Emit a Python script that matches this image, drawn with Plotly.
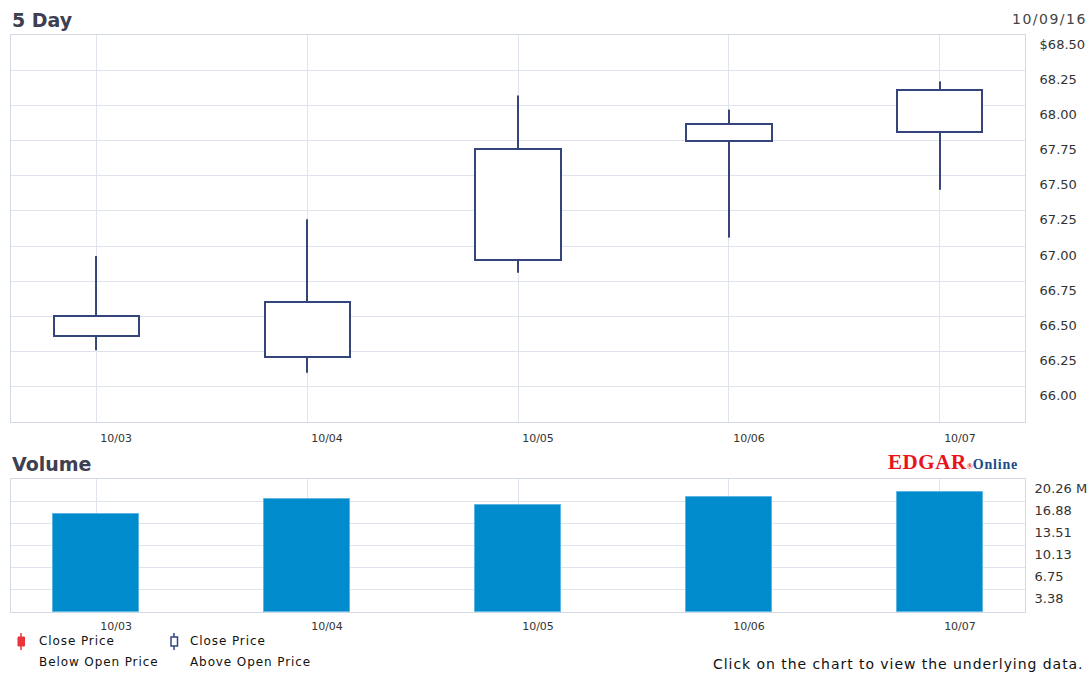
import plotly.graph_objects as go

# ---- data ----
dates = ["10/03", "10/04", "10/05", "10/06", "10/07"]
open_p = [66.36, 66.21, 66.90, 67.75, 67.81]
close_p = [66.50, 66.60, 67.69, 67.87, 68.11]
high_p = [66.93, 67.19, 68.07, 67.97, 68.17]
low_p = [66.26, 66.10, 66.81, 67.06, 67.40]
volume_m = [14.96, 17.24, 16.27, 17.55, 18.31]

price_ticks = [66.00, 66.25, 66.50, 66.75, 67.00, 67.25, 67.50, 67.75, 68.00, 68.25, 68.50]
price_ticktext = ["66.00", "66.25", "66.50", "66.75", "67.00", "67.25", "67.50", "67.75", "68.00", "68.25", "$68.50"]
vol_ticks = [3.38, 6.75, 10.13, 13.51, 16.88, 20.26]
vol_ticktext = ["3.38", "6.75", "10.13", "13.51", "16.88", "20.26 M"]

W, H = 1092, 674
def px(x):
    return x / W
def py(y):
    return 1 - y / H

NAVY = "#34457c"
GRID = "#dfe4ec"
FRAME = "#d3d9e3"
BLUE = "#008bcd"
FONT = "DejaVu Sans"

idx = list(range(len(dates)))

fig = go.Figure()

# wicks (outside the bodies)
wx, wy = [], []
for i, o, c, lo, hi in zip(idx, open_p, close_p, low_p, high_p):
    wx += [i, i, None, i, i, None]
    wy += [lo, min(o, c), None, max(o, c), hi, None]
fig.add_trace(go.Scatter(x=wx, y=wy, mode="lines", line=dict(color=NAVY, width=2),
                         xaxis="x", yaxis="y", hoverinfo="skip", showlegend=False))
# bodies
fig.add_trace(go.Bar(x=idx, y=[c - o for o, c in zip(open_p, close_p)], base=open_p,
                     width=0.403, marker=dict(color="white", line=dict(color=NAVY, width=2)),
                     xaxis="x", yaxis="y", showlegend=False))
# volume
fig.add_trace(go.Bar(x=idx, y=volume_m, width=0.41,
                     marker=dict(color=BLUE, line=dict(color="#5cb5e3", width=1)),
                     xaxis="x2", yaxis="y2", showlegend=False))

common_x = dict(range=[-0.403, 4.403], tickvals=idx, ticktext=dates, showgrid=True,
                gridcolor=GRID, gridwidth=1, showline=True, linecolor=FRAME, mirror=True,
                zeroline=False, ticks="", tickfont=dict(family=FONT, size=11, color="#333"),
                ticklabelshift=20, fixedrange=True, automargin=False)
common_y = dict(side="right", showgrid=True, gridcolor=GRID, gridwidth=1, showline=True,
                linecolor=FRAME, mirror=True, zeroline=False, ticks="",
                tickfont=dict(family=FONT, size=13, color="#333"), ticklabelstandoff=11,
                ticklabelshift=9, fixedrange=True, automargin=False)

fig.update_layout(
    width=W, height=H, margin=dict(l=0, r=0, t=0, b=0, autoexpand=False),
    paper_bgcolor="white", plot_bgcolor="white", bargap=0, showlegend=False,
    xaxis=dict(common_x, domain=[px(11), px(1025)], anchor="y", ticklabelstandoff=6),
    yaxis=dict(common_y, domain=[py(422), py(35)], anchor="x", range=[65.75, 68.5],
               tickvals=price_ticks, ticktext=price_ticktext),
    xaxis2=dict(common_x, domain=[px(11), px(1025)], anchor="y2", ticklabelstandoff=4),
    yaxis2=dict(common_y, domain=[py(612), py(479)], anchor="x2", range=[0, 20.26],
                tickvals=vol_ticks, ticktext=vol_ticktext, ticklabelstandoff=6),
)

LS = "letter-spacing:0.9px"
ann = [
    dict(x=px(10), y=py(20), text="<b>5 Day</b>", xanchor="left", yanchor="middle",
         font=dict(family=FONT, size=19, color="#3c4050")),
    dict(x=px(1089), y=py(19), text="<span style='letter-spacing:1.5px'>10/09/16</span>",
         xanchor="right", yanchor="middle",
         font=dict(family=FONT, size=14, color="#444")),
    dict(x=px(10), y=py(464), text="<b>Volume</b>", xanchor="left", yanchor="middle",
         font=dict(family=FONT, size=19, color="#3c4050")),
    dict(x=px(886), y=py(462), xanchor="left", yanchor="middle",
         text="<b><span style='color:#e8141c;letter-spacing:0.6px'>EDGAR</span><span style='color:#e8141c;font-size:8px'>®</span>"
              "<span style='color:#1b4a8a;font-size:14px;letter-spacing:0.8px'>Online</span></b>",
         font=dict(family="Liberation Serif", size=21)),
    dict(x=px(37), y=py(641), text=f"<span style='{LS}'>Close Price</span>", xanchor="left", yanchor="middle",
         font=dict(family=FONT, size=12, color="#111")),
    dict(x=px(37), y=py(662), text=f"<span style='{LS}'>Below Open Price</span>", xanchor="left", yanchor="middle",
         font=dict(family=FONT, size=12, color="#111")),
    dict(x=px(188), y=py(641), text=f"<span style='{LS}'>Close Price</span>", xanchor="left", yanchor="middle",
         font=dict(family=FONT, size=12, color="#111")),
    dict(x=px(188), y=py(662), text=f"<span style='{LS}'>Above Open Price</span>", xanchor="left", yanchor="middle",
         font=dict(family=FONT, size=12, color="#111")),
    dict(x=px(1086), y=py(664), text="<span style='letter-spacing:0.95px'>Click on the chart to view the underlying data.</span>",
         xanchor="right", yanchor="middle", font=dict(family=FONT, size=14, color="#111")),
]
for a in ann:
    a.update(xref="paper", yref="paper", showarrow=False)
fig.update_layout(annotations=ann)

shapes = [
    dict(type="line", x0=px(21), x1=px(21), y0=py(633), y1=py(650), line=dict(color="#e8343a", width=1.5)),
    dict(type="rect", x0=px(18), x1=px(24.5), y0=py(637), y1=py(646), fillcolor="#e8343a",
         line=dict(color="#e8343a", width=1)),
    dict(type="line", x0=px(174), x1=px(174), y0=py(633), y1=py(650), line=dict(color=NAVY, width=1.5)),
    dict(type="rect", x0=px(171), x1=px(177.5), y0=py(637), y1=py(646), fillcolor="white",
         line=dict(color=NAVY, width=1.5)),
]
for s in shapes:
    s.update(xref="paper", yref="paper")
fig.update_layout(shapes=shapes)

fig.write_html("out.html", config={"displayModeBar": False},
               post_script="document.body.style.margin='0';")
